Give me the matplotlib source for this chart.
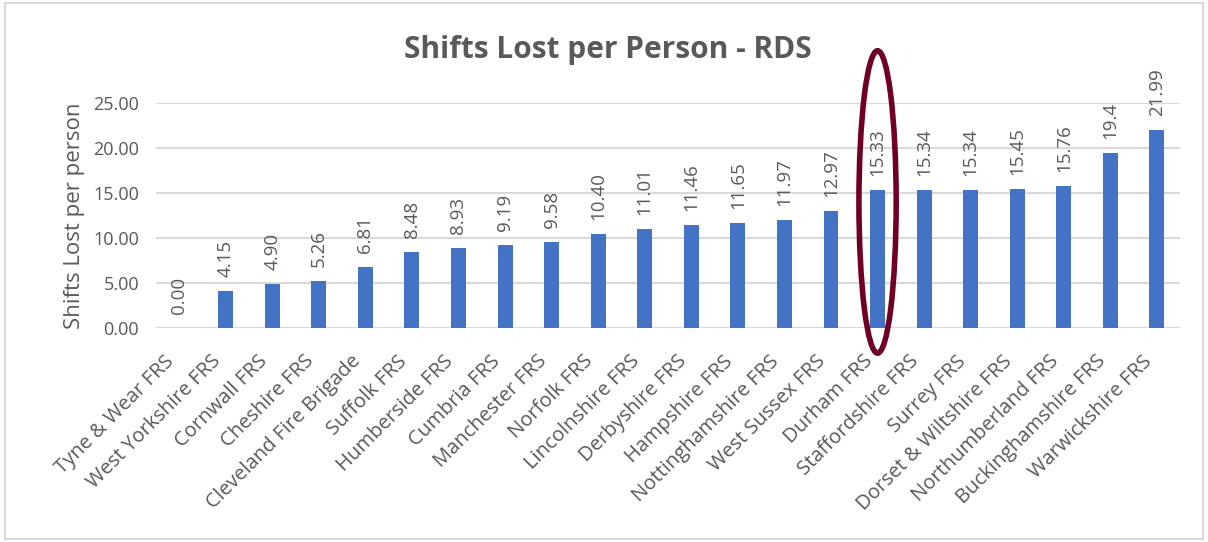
import matplotlib
matplotlib.use('Agg')
import matplotlib.pyplot as plt
from matplotlib.patches import Ellipse, Rectangle
from matplotlib.transforms import ScaledTranslation

# data
services = ["Tyne & Wear FRS", "West Yorkshire FRS", "Cornwall FRS", "Cheshire FRS",
            "Cleveland Fire Brigade", "Suffolk FRS", "Humberside FRS", "Cumbria FRS",
            "Manchester FRS", "Norfolk FRS", "Lincolnshire FRS", "Derbyshire FRS",
            "Hampshire FRS", "Nottinghamshire FRS", "West Sussex FRS", "Durham FRS",
            "Staffordshire FRS", "Surrey FRS", "Dorset & Wiltshire FRS",
            "Northumberland FRS", "Buckinghamshire FRS", "Warwickshire FRS"]
shifts_lost = [0.00, 4.15, 4.90, 5.26, 6.81, 8.48, 8.93, 9.19, 9.58, 10.40, 11.01,
               11.46, 11.65, 11.97, 12.97, 15.33, 15.34, 15.34, 15.45, 15.76, 19.4, 21.99]
value_labels = ["0.00", "4.15", "4.90", "5.26", "6.81", "8.48", "8.93", "9.19", "9.58",
                "10.40", "11.01", "11.46", "11.65", "11.97", "12.97", "15.33", "15.34",
                "15.34", "15.45", "15.76", "19.4", "21.99"]
highlight = "Durham FRS"
y_ticks = [0, 5, 10, 15, 20, 25]

plt.rcParams['font.family'] = ['Open Sans', 'DejaVu Sans']
text_col = '#595959'

fig = plt.figure(figsize=(12.08, 5.42), dpi=100)
ax = fig.add_axes([0.129, 0.395, 0.848, 0.415])

x = list(range(len(services)))
bars = ax.bar(x, shifts_lost, width=0.32, color='#4472C4', zorder=3)

# labels above each bar, rotated
for b, lab in zip(bars, value_labels):
    ax.annotate(lab, (b.get_x() + b.get_width() / 2, b.get_height()),
                xytext=(0, 10), textcoords='offset points', rotation=90,
                ha='center', va='bottom', fontsize=13.5, color=text_col)

ax.set_xlim(-0.5, len(services) - 0.5)
ax.set_ylim(0, 25)
ax.set_yticks(y_ticks)
ax.set_yticklabels(['%.2f' % v for v in y_ticks])
ax.set_xticks(x)
ax.set_xticklabels(services, rotation=45, ha='right', va='center',
                   rotation_mode='anchor')
ax.tick_params(axis='y', length=0, pad=12, labelsize=13, colors=text_col)
ax.tick_params(axis='x', length=0, pad=22, labelsize=14.5, colors=text_col)
# nudge the slanted labels a little to the left, as in the original
shift = ScaledTranslation(-8 / 100, 0, fig.dpi_scale_trans)
for lbl in ax.get_xticklabels():
    lbl.set_color(text_col)
    lbl.set_transform(lbl.get_transform() + shift)

ax.grid(axis='y', color='#D9D9D9', linewidth=1.5, zorder=0)
for s in ax.spines.values():
    s.set_visible(False)

ax.set_ylabel('Shifts Lost per person', fontsize=16, color=text_col, labelpad=6)
fig.text(0.503, 0.907, 'Shifts Lost per Person - RDS', ha='center', va='center',
         fontsize=21.5, fontweight='bold', color=text_col)

# highlight ring around the Durham bar
i = services.index(highlight)
ax.add_patch(Ellipse((i, 14.0), 0.8, 33.6, fill=False, edgecolor='#700023',
                     linewidth=4, clip_on=False, zorder=5))

# chart border
fig.add_artist(Rectangle((0.004, 0.006), 0.992, 0.988, transform=fig.transFigure,
                         fill=False, edgecolor='#D9D9D9', linewidth=1.5))

fig.savefig('out.png', dpi=100)
